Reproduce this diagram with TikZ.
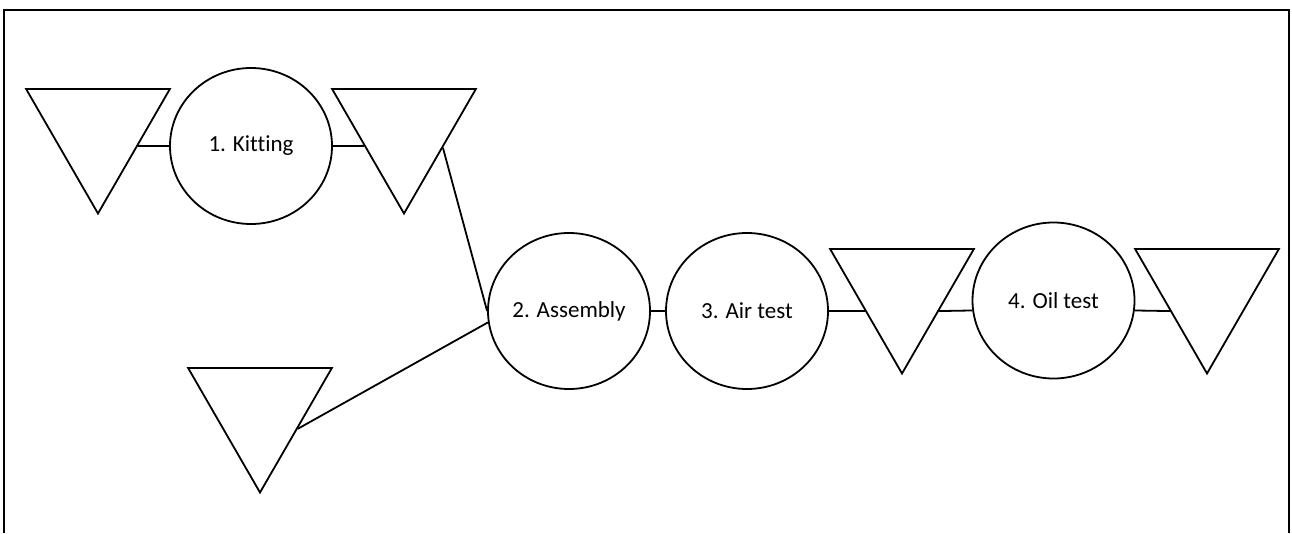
\documentclass[tikz,border=0pt]{standalone}
\usepackage{fontspec}
\setmainfont[Ligatures=NoCommon]{Carlito}
\usepackage{tikz}
\usetikzlibrary{shapes.geometric}

\begin{document}
\begin{tikzpicture}[x=1pt, y=-1pt,
    op/.style={ellipse, draw, line width=1.8pt, minimum width=162pt,
               minimum height=156pt, inner sep=0pt, align=center,
               font=\fontsize{23}{27}\selectfont},
    store/.style={regular polygon, regular polygon sides=3,
                  shape border rotate=180, draw, line width=1.8pt,
                  minimum size=166pt, inner sep=0pt},
    link/.style={line width=1.8pt},
  ]

  \useasboundingbox (0,0) rectangle (1292,533);

  % ===== Frame (open at the bottom) =====
  \draw[line width=2.2pt] (4,533) -- (4,10) -- (1289,10) -- (1289,533);

  % ===== Upper row: kitting =====
  \node[store] (st1) at (98, 130.5) {};
  \node[op] (kit) at (251, 146) {1. Kitting};
  \node[store] (st2) at (404, 130.5) {};

  \draw[link] (st1.-21.7) -- (kit.west);
  \draw[link] (kit.east) -- (st2.201.7);

  % ===== Lower row: assembly and tests =====
  \node[store] (st3) at (260, 409.5) {};
  \node[op] (asm) at (569, 311) {2. Assembly};
  \node[op] (air) at (747, 311) {3. Air test};
  \node[store] (st4) at (902, 290.5) {};
  \node[op] (oil) at (1053.5, 300.5) {4. Oil test};
  \node[store] (st5) at (1207, 290.5) {};

  \draw[link] (st2.-24) -- (asm.west);
  \draw[link] (st3.-27) -- (asm.188);
  \draw[link] (asm.east) -- (air.west);
  \draw[link] (air.east) -- (st4.209.6);
  \draw[link] (st4.-29.6) -- (oil.187);
  \draw[link] (oil.-7) -- (st5.209.6);

\end{tikzpicture}
\end{document}
